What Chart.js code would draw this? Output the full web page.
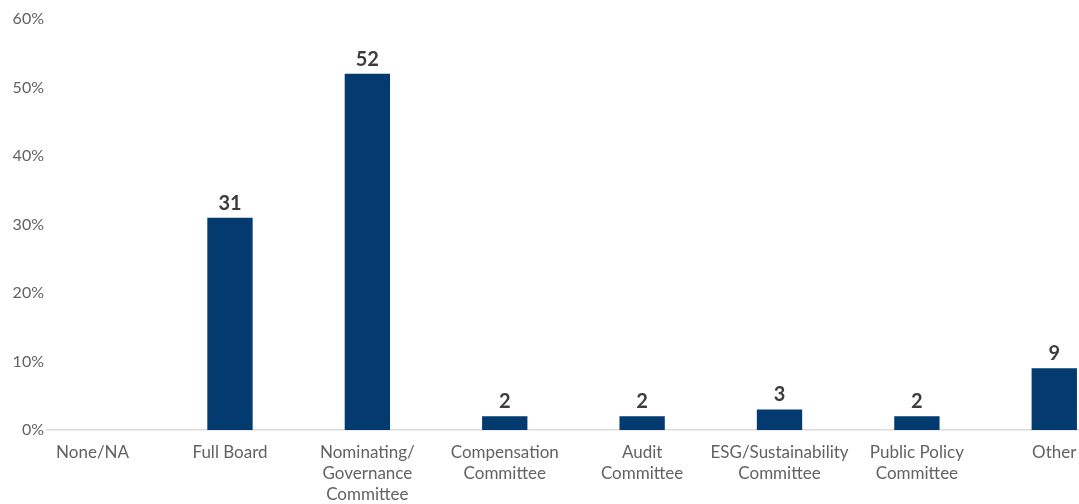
<!DOCTYPE html>
<html>
<head>
<meta charset="utf-8">
<script src="https://cdn.jsdelivr.net/npm/chart.js@4.4.1/dist/chart.umd.min.js"></script>
<style>
    html, body { margin: 0; padding: 0; background: #fff; }
    #wrap { width: 1079px; height: 504px; position: relative; }
</style>
</head>
<body>
<div id="wrap"><canvas id="barChart"></canvas></div>
<script>
let categories = [
    'None/NA',
    'Full Board',
    ['Nominating/', 'Governance', 'Committee'],
    ['Compensation', 'Committee'],
    ['Audit', 'Committee'],
    ['ESG/Sustainability', 'Committee'],
    ['Public Policy', 'Committee'],
    'Other'
];
let shares = [0, 31, 52, 2, 2, 3, 2, 9];
let yTicks = [0, 10, 20, 30, 40, 50, 60];

let barColor = '#033a6f';
let tickColor = '#626262';
let labelColor = '#3d3d3d';
let fontFamily = 'Lato, "Open Sans", sans-serif';

// numbers above each bar
let valueLabels = {
    id: 'valueLabels',
    afterDatasetsDraw(chart) {
        let ctx = chart.ctx;
        let meta = chart.getDatasetMeta(0);
        ctx.save();
        ctx.font = 'bold 20px ' + fontFamily;
        ctx.fillStyle = labelColor;
        ctx.textAlign = 'center';
        ctx.textBaseline = 'alphabetic';
        meta.data.forEach((bar, i) => {
            let v = shares[i];
            if (!v) return;
            ctx.fillText(String(v), bar.x, bar.y - 8);
        });
        ctx.restore();
    }
};

let ctx = document.getElementById('barChart').getContext('2d');

let chart = new Chart(ctx, {
    type: 'bar',
    plugins: [valueLabels],
    data: {
        datasets: [{
            data: shares.map((v, i) => ({ x: i, y: v })),
            backgroundColor: barColor,
            borderWidth: 0,
            categoryPercentage: 1,
            barPercentage: 0.33
        }]
    },
    options: {
        responsive: true,
        maintainAspectRatio: false,
        animation: false,
        layout: { padding: { top: 19, left: 0, right: 0, bottom: 0 } },
        plugins: {
            legend: { display: false },
            tooltip: { enabled: false }
        },
        scales: {
            x: {
                type: 'linear',
                offset: false,
                min: -0.332,
                max: 7.18,
                grid: { display: false, drawTicks: false },
                border: { display: true, color: '#dcdcdc', width: 1.5 },
                afterFit: (scale) => {
                    scale.height = 74;
                    scale.paddingLeft = 0;
                    scale.paddingRight = 0;
                },
                ticks: {
                    stepSize: 1,
                    includeBounds: false,
                    autoSkip: false,
                    maxRotation: 0,
                    padding: 12,
                    color: tickColor,
                    font: { family: fontFamily, size: 17, lineHeight: 1.24 },
                    callback: (value) => categories[value] ?? ''
                }
            },
            y: {
                min: 0,
                max: 60,
                grid: { display: false, drawTicks: false },
                border: { display: false },
                afterFit: (scale) => { scale.width = 47; },
                afterBuildTicks: (scale) => {
                    scale.ticks = yTicks.map(v => ({ value: v }));
                },
                ticks: {
                    padding: 3,
                    color: tickColor,
                    font: { family: fontFamily, size: 16 },
                    callback: (value) => value + '%'
                }
            }
        }
    }
});
</script>
</body>
</html>
